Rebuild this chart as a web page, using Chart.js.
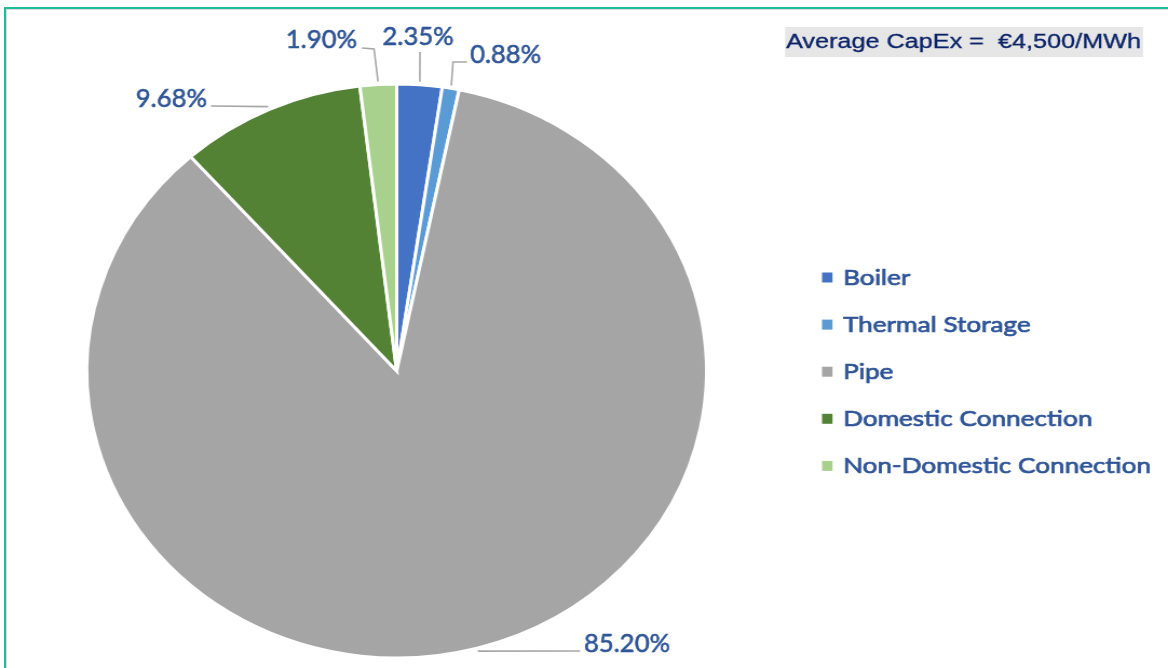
<!DOCTYPE html>
<html>
<head>
<meta charset="utf-8">
<script src="https://cdn.jsdelivr.net/npm/chart.js@4/dist/chart.umd.min.js"></script>
<style>
  html, body { margin: 0; padding: 0; background: #fff; overflow: hidden; }
  #frame {
    position: absolute; left: 4px; top: 7px; width: 1200px; height: 700px;
    border-left: 2px solid #1dbd9a; border-top: 2px solid #1dbd9a;
    box-shadow: inset 1px 1px 0 #dcdcdc;
  }
  /* the source picture is stretched sideways, so the whole chart is too */
  #wrap {
    position: absolute; left: 0; top: 0; width: 1082px; height: 668px;
    transform: scaleX(1.0795); transform-origin: 0 0;
  }
</style>
</head>
<body>
<div id="frame"></div>
<div id="wrap"><canvas id="pie" width="1082" height="668"></canvas></div>
<script>
const categories = ['Boiler', 'Thermal Storage', 'Pipe', 'Domestic Connection', 'Non-Domestic Connection'];
const shares = [2.35, 0.88, 85.20, 9.68, 1.90];
const colours = ['#4472C4', '#5B9BD5', '#A5A5A5', '#548235', '#A9D18E'];
const note = 'Average CapEx =  \u20AC4,500/MWh';

const SX = 1168 / 1082;
const ix = x => x / SX;
const TXT = '#2F5597';

// where each percentage label sits (page pixels), and the bends of its leader line
const labelSpots = [
  { tx: 418, ty: 45, align: 'center', bends: [[420, 52]] },
  { tx: 470, ty: 63, align: 'left', bends: [[453, 62], [467, 62]] },
  { tx: 584, ty: 652, align: 'left', bends: [[580, 651]] },
  { tx: 207, ty: 107, align: 'right', bends: [[211, 106]] },
  { tx: 357, ty: 48, align: 'right', bends: [[374, 49], [362, 48]] },
];

// squeeze text sideways to the source's width, with a hairline stroke for weight
function squeezed(ctx, text, x, y, align, sx, weight) {
  ctx.save();
  ctx.translate(x, y);
  ctx.scale(sx, 1);
  ctx.textAlign = align;
  ctx.fillText(text, 0, 0);
  if (weight) {
    ctx.strokeStyle = ctx.fillStyle;
    ctx.lineWidth = weight;
    ctx.strokeText(text, 0, 0);
  }
  ctx.restore();
}

const extras = {
  id: 'extras',
  afterDatasetsDraw(chart) {
    const ctx = chart.ctx;
    const arcs = chart.getDatasetMeta(0).data;

    // leader lines + percentage labels
    ctx.save();
    ctx.font = '25px Lato';
    ctx.textBaseline = 'alphabetic';
    const lsx = ix(86) / ctx.measureText('85.20%').width;
    arcs.forEach((arc, i) => {
      const p = arc.getProps(['x', 'y', 'startAngle', 'endAngle', 'outerRadius'], true);
      const a = (p.startAngle + p.endAngle) / 2;
      const spot = labelSpots[i];
      ctx.strokeStyle = '#A6A6A6';
      ctx.lineWidth = 1.6;
      ctx.beginPath();
      ctx.moveTo(p.x + Math.cos(a) * (p.outerRadius + 3), p.y + Math.sin(a) * (p.outerRadius + 3));
      spot.bends.forEach(b => ctx.lineTo(ix(b[0]), b[1]));
      ctx.stroke();
      ctx.fillStyle = TXT;
      squeezed(ctx, shares[i].toFixed(2) + '%', ix(spot.tx), spot.ty, spot.align, lsx, 0.6);
    });
    ctx.restore();

    // legend
    ctx.save();
    ctx.font = '22px Lato';
    ctx.textBaseline = 'alphabetic';
    const gsx = ix(308) / ctx.measureText(categories[4]).width;
    categories.forEach((c, i) => {
      const base = 284.5 + i * 47.1;
      ctx.fillStyle = colours[i];
      ctx.fillRect(ix(822), base - 12, ix(10.5), 10);
      ctx.fillStyle = TXT;
      squeezed(ctx, c, ix(843), base, 'left', gsx, 0.7);
    });
    ctx.restore();

    // CapEx note box
    ctx.save();
    ctx.fillStyle = '#E7E6E6';
    ctx.fillRect(ix(785), 27, ix(358), 30);
    ctx.font = '20px "Liberation Sans", Arial';
    ctx.textBaseline = 'alphabetic';
    ctx.fillStyle = '#0B2468';
    const nsx = ix(355) / ctx.measureText(note).width;
    squeezed(ctx, note, ix(786), 47.5, 'left', nsx, 0.3);
    ctx.restore();
  }
};

new Chart(document.getElementById('pie'), {
  type: 'pie',
  data: {
    labels: categories,
    datasets: [{
      data: shares,
      backgroundColor: colours,
      borderColor: '#ffffff',
      borderWidth: 3,
      borderJoinStyle: 'miter',
    }],
  },
  options: {
    responsive: false,
    animation: false,
    devicePixelRatio: 1,
    layout: { padding: { left: 79, right: 426, top: 82, bottom: 8 } },
    plugins: {
      legend: { display: false },
      tooltip: { enabled: false },
    },
  },
  plugins: [extras],
});
</script>
</body>
</html>
